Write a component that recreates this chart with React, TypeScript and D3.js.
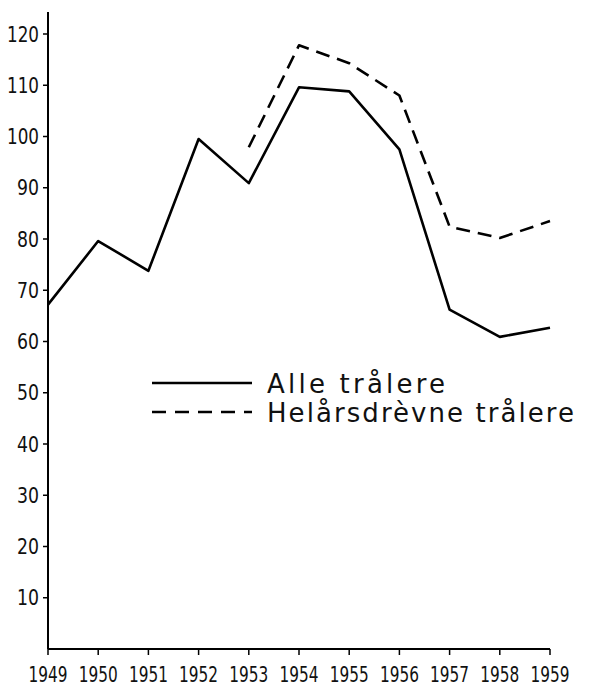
import React from "react";
import * as d3 from "d3";

const years = [1949, 1950, 1951, 1952, 1953, 1954, 1955, 1956, 1957, 1958, 1959];
const alleTralere = [67.2, 79.6, 73.8, 99.5, 90.9, 109.6, 108.8, 97.5, 66.2, 60.9, 62.7];
const helarsYears = [1953, 1954, 1955, 1956, 1957, 1958, 1959];
const helarsTralere = [97.9, 117.8, 114.3, 108, 82.4, 80.2, 83.5];
const yTicks = [10, 20, 30, 40, 50, 60, 70, 80, 90, 100, 110, 120];
const legendLabels = ["Alle trålere", "Helårsdrèvne trålere"];

const font = "'DejaVu Sans Condensed', 'DejaVu Sans', sans-serif";

export default function App() {
  const width = 591;
  const height = 686;

  // plot frame
  const x = d3.scaleLinear().domain([1949, 1959]).range([48, 550]);
  const y = d3.scaleLinear().domain([0, 120]).range([649, 34]);

  const line = d3
    .line<[number, number]>()
    .x((d) => x(d[0]))
    .y((d) => y(d[1]));

  const solid = years.map((yr, i) => [yr, alleTralere[i]] as [number, number]);
  const dashed = helarsYears.map((yr, i) => [yr, helarsTralere[i]] as [number, number]);

  return (
    <svg
      width={width}
      height={height}
      style={{ position: "absolute", left: 0, top: 0, background: "#fff" }}
    >
      {/* axes */}
      <line x1={x(1949)} x2={x(1949)} y1={12} y2={y(0)} stroke="#000" strokeWidth={2} />
      <line x1={x(1949)} x2={x(1959)} y1={y(0)} y2={y(0)} stroke="#000" strokeWidth={2} />

      {yTicks.map((t) => (
        <g key={t}>
          <line x1={x(1949) - 5} x2={x(1949)} y1={y(t)} y2={y(t)} stroke="#000" strokeWidth={1.5} />
          <text
            x={39}
            y={y(t)}
            dy="0.36em"
            textAnchor="end"
            fontFamily={font}
            fontSize={21}
            textLength={t >= 100 ? 32 : 22}
            lengthAdjust="spacingAndGlyphs"
            fill="#111"
          >
            {t}
          </text>
        </g>
      ))}

      {years.map((yr) => (
        <g key={yr}>
          <line x1={x(yr)} x2={x(yr)} y1={y(0)} y2={y(0) + 6} stroke="#000" strokeWidth={1.5} />
          <text
            x={x(yr)}
            y={682}
            textAnchor="middle"
            fontFamily={font}
            fontSize={21}
            textLength={39}
            lengthAdjust="spacingAndGlyphs"
            fill="#111"
          >
            {yr}
          </text>
        </g>
      ))}

      {/* series */}
      <path d={line(solid) ?? ""} fill="none" stroke="#000" strokeWidth={2.6} strokeLinejoin="round" />
      <path
        d={line(dashed) ?? ""}
        fill="none"
        stroke="#000"
        strokeWidth={2.6}
        strokeDasharray="14 8"
        strokeLinejoin="round"
      />

      {/* legend */}
      {legendLabels.map((lab, i) => (
        <g key={lab} transform={`translate(0,${383 + i * 29})`}>
          <line
            x1={152}
            x2={252}
            y1={0}
            y2={0}
            stroke="#000"
            strokeWidth={2.6}
            strokeDasharray={i === 1 ? "14 9" : undefined}
          />
          <text
            x={267}
            y={10}
            fontFamily="'DejaVu Sans', sans-serif"
            fontSize={26}
            textLength={i === 1 ? 307 : 178}
            lengthAdjust="spacing"
            fill="#111"
          >
            {lab}
          </text>
        </g>
      ))}
    </svg>
  );
}
